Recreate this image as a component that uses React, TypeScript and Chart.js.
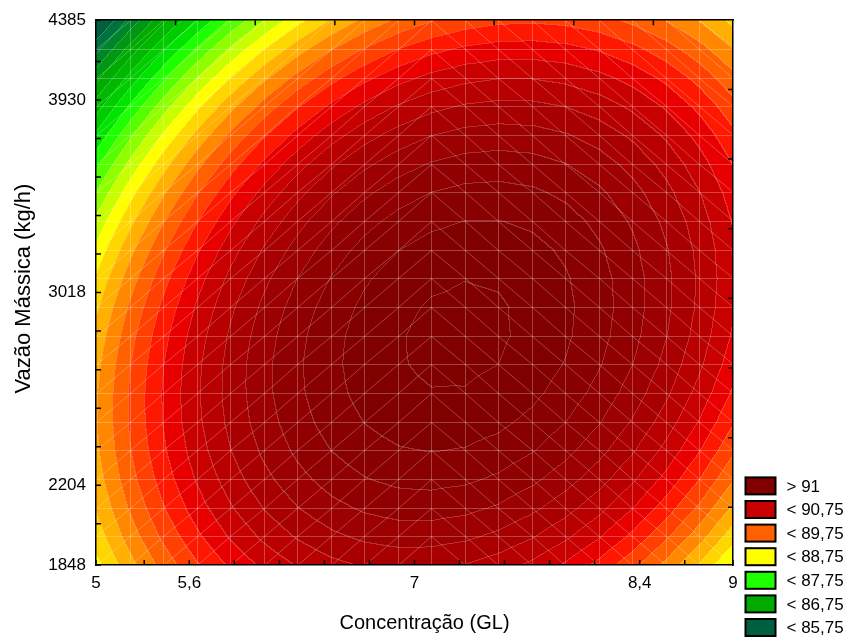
import React, { useEffect, useRef } from 'react';
import { Chart, registerables } from 'chart.js';

Chart.register(...registerables);
const FONT = '"Liberation Sans", Arial, sans-serif';
Chart.defaults.font.family = FONT;

// ---------------- data ----------------
const xAxisTitle = 'Concentração (GL)';
const yAxisTitle = 'Vazão Mássica (kg/h)';

// coded axis range (-alpha .. +alpha)
const codedMin = -1.41421;
const codedMax = 1.41421;

// bottom / left axis ticks (coded) and their labels (design levels)
const xTickValues = [-1.41421, -1.2, -1.0, -0.8, -0.6, -0.4, -0.2, 0, 0.2, 0.4, 0.6, 0.8, 1.0, 1.2, 1.41421];
const xTickLabels = ['5', '', '5,6', '', '', '', '', '7', '', '', '', '', '8,4', '', '9'];
const yTickValues = [-1.41421, -1.2, -1.0, -0.8, -0.6, -0.4, -0.2, 0, 0.2, 0.4, 0.6, 0.8, 1.0, 1.2, 1.41421];
const yTickLabels = ['1848', '', '2204', '', '', '', '', '3018', '', '', '', '', '3930', '', '4385'];
// top / right mirror axis ticks (coded)
const xTopTickValues = [-1.0607, -0.7071, -0.3536, 0, 0.3536, 0.7071, 1.0607];
const yRightTickValues = [1.0548, 0.6933, 0.3318, -0.0297, -0.391, -0.753, -1.114];

// fitted response surface in coded variables:
// z = b0 + b1*x + b2*y + b11*x^2 + b22*y^2 + b12*x*y
const surfaceCoefficients = [92.21, 0.59, -0.5, -1.25, -0.925, 0.47];

// contour levels and the colour of each band (band i lies below contourLevels[i])
const contourLevels = [
  85.75, 86, 86.25, 86.5, 86.75, 87, 87.25, 87.5, 87.75, 88, 88.25, 88.5, 88.75, 89,
  89.25, 89.5, 89.75, 90, 90.25, 90.5, 90.75, 91, 91.25, 91.5, 91.75, 92, 92.25, 92.5,
];
const bandColors = [
  '#005f3f', '#00723f', '#00842a', '#009715', '#00aa00', '#00b800', '#00cc00', '#00e400',
  '#1eff00', '#56ff00', '#8fff00', '#c7ff00', '#ffff00', '#ffd700', '#ffb000', '#ff8800',
  '#ff6000', '#ff4000', '#ff1800', '#e80000', '#c80000', '#b80000', '#a80000', '#9c0000',
  '#900000', '#880000', '#800000', '#800000', '#800000',
];

const legendLabels = ['> 91', '< 90,75', '< 89,75', '< 88,75', '< 87,75', '< 86,75', '< 85,75'];
const legendColors = ['#800000', '#c80000', '#ff6000', '#ffff00', '#1eff00', '#00aa00', '#005f3f'];

// ---------------- rendering helpers ----------------
const MESH = 19; // mesh intervals per axis
const APEX = 10; // column where triangulation changes direction

function modelValue(u: number, v: number): number {
  const [b0, b1, b2, b11, b22, b12] = surfaceCoefficients;
  return b0 + b1 * u + b2 * v + b11 * u * u + b22 * v * v + b12 * u * v;
}

function meshNodes(): number[] {
  const n: number[] = [];
  for (let i = 0; i <= MESH; i++) n.push(codedMin + ((codedMax - codedMin) * i) / MESH);
  return n;
}

function meshValue(z: number[][], u: number, v: number): number {
  const d = (codedMax - codedMin) / MESH;
  const fi = (u - codedMin) / d;
  const fj = (v - codedMin) / d;
  const i = Math.min(MESH - 1, Math.max(0, Math.floor(fi)));
  const j = Math.min(MESH - 1, Math.max(0, Math.floor(fj)));
  const s = fi - i;
  const t = fj - j;
  const z00 = z[i][j], z10 = z[i + 1][j], z01 = z[i][j + 1], z11 = z[i + 1][j + 1];
  if (i < APEX) {
    if (s >= t) return z00 + s * (z10 - z00) + t * (z11 - z10);
    return z00 + t * (z01 - z00) + s * (z11 - z01);
  }
  if (s + t <= 1) return z00 + s * (z10 - z00) + t * (z01 - z00);
  return z11 + (1 - s) * (z01 - z11) + (1 - t) * (z10 - z11);
}

function hexToRgb(h: string): number[] {
  return [parseInt(h.slice(1, 3), 16), parseInt(h.slice(3, 5), 16), parseInt(h.slice(5, 7), 16)];
}

const surfacePlugin = {
  id: 'surface',
  beforeDraw(chart: any) {
    const { ctx, chartArea: a, scales } = chart;
    const xs = scales.x;
    const ys = scales.y;
    const nodes = meshNodes();
    const z = nodes.map((u) => nodes.map((v) => modelValue(u, v)));
    const left = Math.round(a.left);
    const top = Math.round(a.top);
    const w = Math.round(a.right) - left;
    const h = Math.round(a.bottom) - top;
    const img = ctx.createImageData(w, h);
    const band = new Int16Array(w * h);
    const us = new Float64Array(w);
    for (let px = 0; px < w; px++) us[px] = xs.getValueForPixel(left + px + 0.5);
    for (let py = 0; py < h; py++) {
      const v = ys.getValueForPixel(top + py + 0.5);
      for (let px = 0; px < w; px++) {
        const val = meshValue(z, us[px], v);
        let b = 0;
        while (b < contourLevels.length && val >= contourLevels[b]) b++;
        band[py * w + px] = b;
      }
    }
    const rgb = bandColors.map(hexToRgb);
    const seamAlpha = 0.2;
    for (let py = 0; py < h; py++) {
      for (let px = 0; px < w; px++) {
        const k = py * w + px;
        const b = band[k];
        const c = rgb[Math.min(b, rgb.length - 1)];
        let r = c[0], g = c[1], bl = c[2];
        const seam = (px > 0 && band[k - 1] !== b) || (py > 0 && band[k - w] !== b);
        if (seam) {
          r = r + (255 - r) * seamAlpha;
          g = g + (255 - g) * seamAlpha;
          bl = bl + (255 - bl) * seamAlpha;
        }
        img.data[k * 4] = r;
        img.data[k * 4 + 1] = g;
        img.data[k * 4 + 2] = bl;
        img.data[k * 4 + 3] = 255;
      }
    }
    ctx.putImageData(img, left, top);

    // triangulated mesh lines
    ctx.save();
    ctx.beginPath();
    ctx.rect(a.left, a.top, a.right - a.left, a.bottom - a.top);
    ctx.clip();
    ctx.strokeStyle = 'rgba(255,255,255,0.26)';
    ctx.lineWidth = 1;
    ctx.beginPath();
    const P = (i: number, j: number) => [
      Math.round(xs.getPixelForValue(nodes[i])) + 0.5,
      Math.round(ys.getPixelForValue(nodes[j])) + 0.5,
    ];
    for (let i = 1; i < MESH; i++) {
      const [x] = P(i, 0);
      ctx.moveTo(x, a.top);
      ctx.lineTo(x, a.bottom);
    }
    for (let j = 1; j < MESH; j++) {
      const [, y] = P(0, j);
      ctx.moveTo(a.left, y);
      ctx.lineTo(a.right, y);
    }
    for (let i = 0; i < MESH; i++) {
      for (let j = 0; j < MESH; j++) {
        const p1 = i < APEX ? P(i, j) : P(i, j + 1);
        const p2 = i < APEX ? P(i + 1, j + 1) : P(i + 1, j);
        ctx.moveTo(p1[0], p1[1]);
        ctx.lineTo(p2[0], p2[1]);
      }
    }
    ctx.stroke();
    ctx.restore();
  },
  afterDraw(chart: any) {
    const { ctx, chartArea: a, scales } = chart;
    const len = 5;
    ctx.save();
    ctx.strokeStyle = '#000';
    ctx.lineWidth = 1.5;
    ctx.beginPath();
    for (const t of scales.x.ticks) {
      const x = scales.x.getPixelForValue(t.value);
      ctx.moveTo(x, a.bottom);
      ctx.lineTo(x, a.bottom - len);
    }
    for (const t of scales.x2.ticks) {
      const x = scales.x2.getPixelForValue(t.value);
      ctx.moveTo(x, a.top);
      ctx.lineTo(x, a.top + len);
    }
    for (const t of scales.y.ticks) {
      const y = scales.y.getPixelForValue(t.value);
      ctx.moveTo(a.left, y);
      ctx.lineTo(a.left + len, y);
    }
    for (const t of scales.y2.ticks) {
      const y = scales.y2.getPixelForValue(t.value);
      ctx.moveTo(a.right, y);
      ctx.lineTo(a.right - len, y);
    }
    ctx.stroke();

    // axis titles
    ctx.fillStyle = '#000';
    ctx.textAlign = 'center';
    ctx.textBaseline = 'middle';
    ctx.font = '20px ' + FONT;
    ctx.fillText(xAxisTitle, (a.left + a.right) / 2 + 10, 623);
    ctx.save();
    ctx.translate(24, (a.top + a.bottom) / 2 - 4);
    ctx.rotate(-Math.PI / 2);
    ctx.font = '22px ' + FONT;
    ctx.fillText(yAxisTitle, 0, 0);
    ctx.restore();

    // legend
    const boxW = 30;
    const boxH = 17;
    const step = 23.6;
    const bx = a.right + 12.5;
    const lastBottom = chart.height - 5;
    const firstTop = lastBottom - boxH - step * (legendLabels.length - 1);
    ctx.font = '17px ' + FONT;
    ctx.textBaseline = 'middle';
    ctx.textAlign = 'left';
    legendLabels.forEach((lab, i) => {
      const y = firstTop + i * step;
      ctx.fillStyle = legendColors[i];
      ctx.fillRect(bx, y, boxW, boxH);
      ctx.strokeStyle = '#000';
      ctx.lineWidth = 2;
      ctx.strokeRect(bx, y, boxW, boxH);
      ctx.fillStyle = '#000';
      ctx.fillText(lab, bx + 41, y + boxH / 2 + 1);
    });
    ctx.restore();
  },
};

export default function App() {
  const ref = useRef<HTMLCanvasElement | null>(null);
  useEffect(() => {
    if (!ref.current) return;
    const hidden = { display: false, drawTicks: false };
    const border = { display: true, color: '#000', width: 1.5 };
    const chart = new Chart(ref.current, {
      type: 'scatter',
      data: { datasets: [] },
      options: {
        animation: false,
        responsive: false,
        maintainAspectRatio: false,
        events: [],
        layout: { padding: { top: 17, right: 115, left: 0, bottom: 0 } },
        plugins: { legend: { display: false }, tooltip: { enabled: false } },
        scales: {
          x: {
            type: 'linear',
            position: 'bottom',
            min: codedMin,
            max: codedMax,
            afterBuildTicks: (s: any) => {
              s.ticks = xTickValues.map((value) => ({ value }));
            },
            afterFit: (s: any) => {
              s.height = 76;
            },
            ticks: {
              callback: (_v: any, i: number) => xTickLabels[i] ?? '',
              autoSkip: false,
              maxRotation: 0,
              minRotation: 0,
              padding: 8,
              color: '#000',
              font: { size: 17 },
            },
            grid: hidden,
            border,
          },
          y: {
            type: 'linear',
            position: 'left',
            min: codedMin,
            max: codedMax,
            afterBuildTicks: (s: any) => {
              s.ticks = yTickValues.map((value) => ({ value }));
            },
            afterFit: (s: any) => {
              s.width = 96;
            },
            ticks: {
              callback: (_v: any, i: number) => yTickLabels[i] ?? '',
              autoSkip: false,
              maxRotation: 0,
              minRotation: 0,
              padding: 10,
              color: '#000',
              font: { size: 17 },
            },
            grid: hidden,
            border,
          },
          x2: {
            type: 'linear',
            position: 'top',
            min: codedMin,
            max: codedMax,
            afterBuildTicks: (s: any) => {
              s.ticks = xTopTickValues.map((value) => ({ value }));
            },
            afterFit: (s: any) => {
              s.height = 0;
            },
            ticks: { display: false },
            grid: hidden,
            border,
          },
          y2: {
            type: 'linear',
            position: 'right',
            min: codedMin,
            max: codedMax,
            afterBuildTicks: (s: any) => {
              s.ticks = yRightTickValues.map((value) => ({ value }));
            },
            afterFit: (s: any) => {
              s.width = 0;
            },
            ticks: { display: false },
            grid: hidden,
            border,
          },
        },
      },
      plugins: [surfacePlugin],
    } as any);
    return () => chart.destroy();
  }, []);
  return (
    <div style={{ position: 'fixed', left: 0, top: 0, width: 848, height: 641, background: '#fff' }}>
      <canvas ref={ref} width={848} height={641} style={{ display: 'block' }} />
    </div>
  );
}
